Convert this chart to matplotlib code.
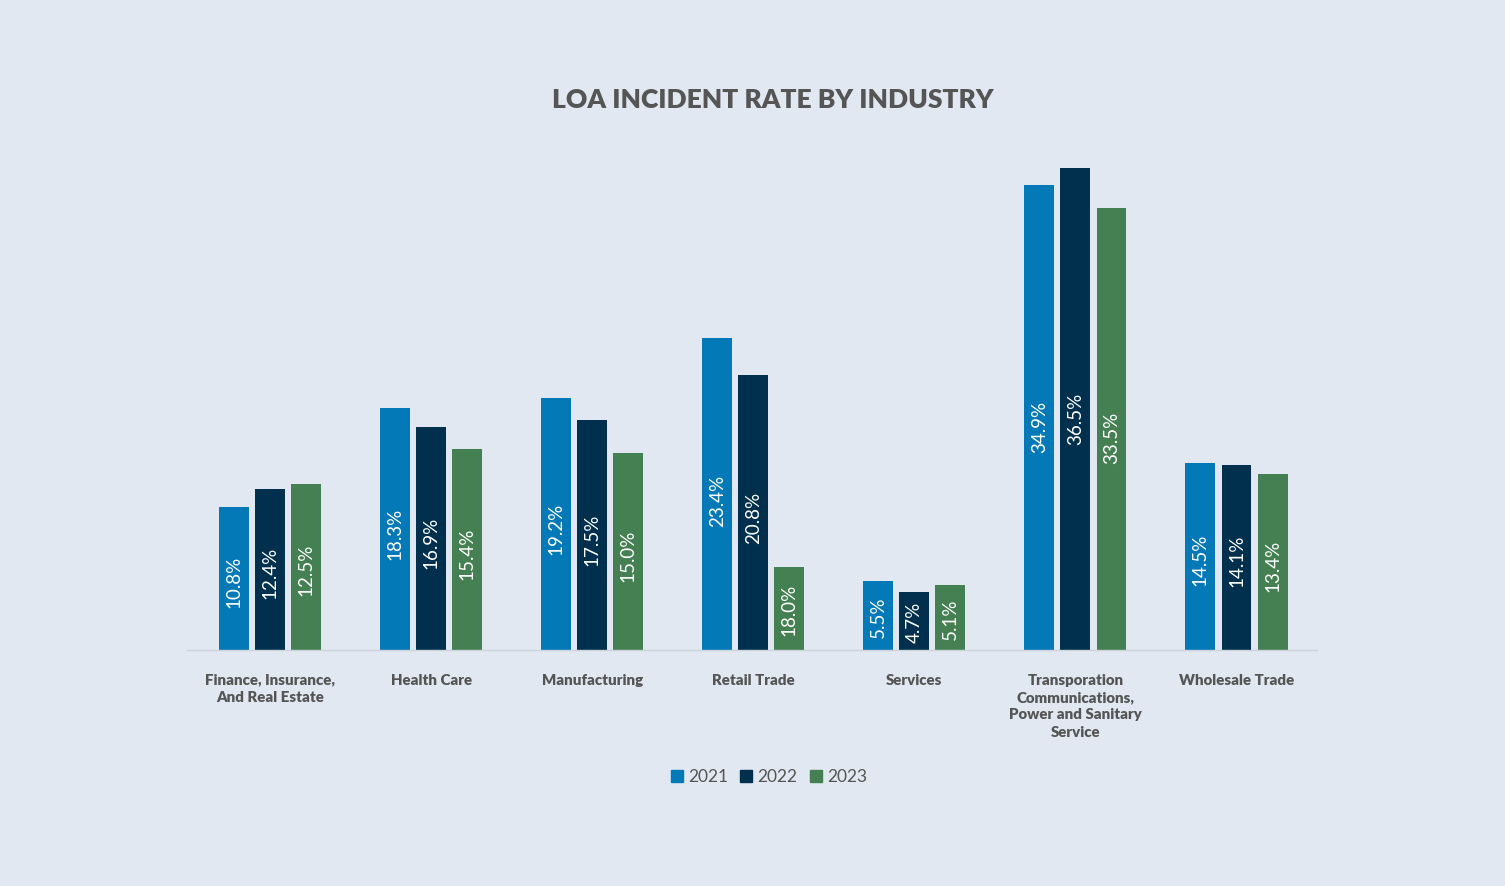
import numpy as np
import matplotlib.pyplot as plt
from matplotlib.patches import Patch

industries = ['Finance, Insurance,\nAnd Real Estate', 'Health Care', 'Manufacturing',
              'Retail Trade', 'Services',
              'Transporation\nCommunications,\nPower and Sanitary\nService',
              'Wholesale Trade']
years = ['2021', '2022', '2023']

# values printed on the bars
rate_2021 = [10.8, 18.3, 19.2, 23.4, 5.5, 34.9, 14.5]
rate_2022 = [12.4, 16.9, 17.5, 20.8, 4.7, 36.5, 14.1]
rate_2023 = [12.5, 15.4, 15.0, 18.0, 5.1, 33.5, 13.4]

# bar heights as drawn in the source (retail 2023 is drawn much shorter than its label)
height_2021 = [10.8, 18.3, 19.1, 23.6, 5.2, 35.2, 14.2]
height_2022 = [12.2, 16.9, 17.4, 20.8, 4.4, 36.5, 14.0]
height_2023 = [12.6, 15.2, 14.9, 6.3, 4.9, 33.5, 13.3]

colors = ['#0479B8', '#00304D', '#448052']
bg = '#E1E8F1'
grey = '#555555'

plt.rcParams['font.family'] = ['Lato', 'DejaVu Sans']

fig = plt.figure(figsize=(15.05, 8.86), dpi=100, facecolor=bg)
ax = fig.add_axes([0.1243, 0.2664, 0.7508, 0.5661])
ax.set_facecolor(bg)

x = np.arange(len(industries))
width = 0.186
step = 0.224
heights = [height_2021, height_2022, height_2023]
rates = [rate_2021, rate_2022, rate_2023]

for i, (h, r) in enumerate(zip(heights, rates)):
    pos = x + (i - 1) * step
    ax.bar(pos, h, width=width, color=colors[i], zorder=2)
    for px, hv, rv in zip(pos, h, r):
        ax.text(px, hv * 0.48, f'{rv:.1f}%', rotation=90, ha='center', va='center',
                color='white', fontsize=13.5)

ax.set_xlim(-0.515, 6.5)
ax.set_ylim(0, 38)
ax.set_yticks([])
ax.set_xticks(x)
ax.set_xticklabels(industries, fontsize=10.8, fontweight='heavy', color=grey, linespacing=1.4)
ax.tick_params(axis='x', length=0, pad=17)
for s in ['top', 'right', 'left']:
    ax.spines[s].set_visible(False)
ax.spines['bottom'].set_color('#CDD3DB')
ax.spines['bottom'].set_linewidth(1)

fig.text(0.5136, 0.887, 'LOA INCIDENT RATE BY INDUSTRY', ha='center', va='center',
         fontsize=19, fontweight='heavy', color=grey)

handles = [Patch(color=c, label=y) for c, y in zip(colors, years)]
fig.legend(handles=handles, loc='center', bbox_to_anchor=(0.511, 0.123), ncol=3,
           frameon=False, fontsize=12.5, handlelength=0.7, handleheight=0.7,
           handletextpad=0.3, columnspacing=0.7, labelcolor=grey)

fig.savefig('out.png', dpi=100, facecolor=bg)
